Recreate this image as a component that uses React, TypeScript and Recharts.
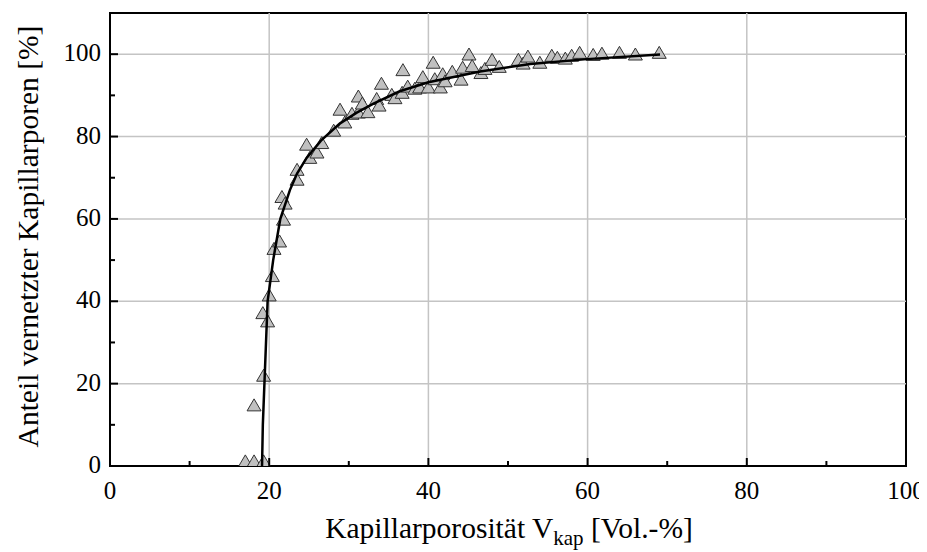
import React from 'react';
import { ScatterChart, Scatter, XAxis, YAxis, ReferenceLine, ReferenceArea, Label } from 'recharts';

const measX = [17.0, 18.1, 19.3, 18.1, 19.3, 19.2, 19.8, 20.0, 20.4, 20.6, 21.3, 21.8, 21.6, 22.0, 23.5, 23.5, 24.7, 25.1, 26.0, 26.6, 28.1, 28.9, 29.5, 30.4, 31.2, 31.2, 31.7, 32.4, 33.5, 33.8, 34.1, 35.4, 35.8, 36.7, 36.8, 37.4, 38.3, 38.9, 39.3, 40.0, 40.6, 40.8, 41.5, 41.8, 42.1, 43.0, 44.1, 44.3, 45.1, 45.5, 46.6, 47.1, 48.0, 48.9, 51.3, 51.9, 52.5, 54.0, 55.5, 56.2, 57.2, 58.0, 59.0, 60.7, 61.8, 64.0, 66.0, 69.0];
const measY = [1, 1, 1, 14.6, 21.8, 37, 35, 41.3, 46, 52.6, 54.4, 59.7, 65.2, 63.6, 71.8, 69.4, 77.9, 74.7, 76, 78.3, 81.3, 86.4, 83.3, 85.4, 89.6, 85.7, 87.9, 85.8, 89, 87.4, 92.7, 90, 89.2, 90.5, 96, 92, 91.5, 91.8, 94.3, 91.8, 97.8, 93.8, 91.8, 95, 93.3, 95.6, 93.7, 96.6, 99.8, 97, 95.3, 96.3, 98.5, 96.8, 98.5, 97.6, 99.3, 97.8, 99.5, 99, 98.8, 99.5, 100.2, 99.7, 100, 100.2, 99.8, 100.2];

const fitX = [19.1, 19.2, 19.4, 19.8, 20.5, 21.4, 22.6, 23.5, 24.7, 26.5, 28.9, 31.0, 33.1, 36.4, 40.0, 46.5, 52.8, 59.9, 69.1];
const fitY = [0, 10, 20, 40, 50, 60, 67, 71, 74.8, 79, 83.2, 85.8, 88, 91, 93.2, 95.8, 97.6, 98.8, 99.9];

const xTicks = [0, 10, 20, 30, 40, 50, 60, 70, 80, 90, 100];
const yTicks = [0, 10, 20, 30, 40, 50, 60, 70, 80, 90, 100];
const majorX = [20, 40, 60, 80];
const majorY = [20, 40, 60, 80, 100];

const measured = measX.map((x, i) => ({ x, y: measY[i] }));
const fit = fitX.map((x, i) => ({ x, y: fitY[i] }));

const FONT = '"Liberation Serif", "Times New Roman", serif';

const Triangle = (props: any) => {
  const { cx, cy } = props;
  if (cx == null || cy == null) return <g />;
  const pts = `${cx},${cy - 7} ${cx - 7},${cy + 5} ${cx + 7},${cy + 5}`;
  return <polygon points={pts} fill="#c0c0c0" stroke="#333" strokeWidth={1} />;
};

const XTick = (props: any) => {
  const { x, y, payload } = props;
  const v = payload.value;
  const major = v % 20 === 0;
  return (
    <g>
      <line x1={x} x2={x} y1={y} y2={y - (major ? 8 : 5)} stroke="#000" strokeWidth={2} />
      {major && (
        <text x={x} y={y + 33} textAnchor="middle" fontFamily={FONT} fontSize={25} fill="#000">{v}</text>
      )}
    </g>
  );
};

const YTick = (props: any) => {
  const { x, y, payload } = props;
  const v = payload.value;
  const major = v % 20 === 0;
  return (
    <g>
      <line x1={x} x2={x + (major ? 8 : 5)} y1={y} y2={y} stroke="#000" strokeWidth={2} />
      {major && (
        <text x={x - 9} y={y + 7} textAnchor="end" fontFamily={FONT} fontSize={25} fill="#000">{v}</text>
      )}
    </g>
  );
};

const XTitle = (props: any) => {
  const vb = props.viewBox || {};
  const cx = vb.x + vb.width / 2 + 1;
  return (
    <text x={cx} y={vb.y + 72} textAnchor="middle" fontFamily={FONT} fontSize={29.5} fill="#000">
      Kapillarporosität V<tspan fontSize={21} dy={7}>kap</tspan><tspan dy={-7}> [Vol.-%]</tspan>
    </text>
  );
};

const YTitle = (props: any) => {
  const vb = props.viewBox || {};
  const cx = 20;
  const cy = vb.y + vb.height / 2 - 3;
  return (
    <text x={cx} y={cy} textAnchor="middle" dominantBaseline="central" transform={`rotate(-90 ${cx} ${cy})`} fontFamily={FONT} fontSize={29.5} fill="#000">
      Anteil vernetzter Kapillarporen [%]
    </text>
  );
};

export default function App() {
  return (
    <ScatterChart width={919} height={544} margin={{ top: 5, right: 21, left: 0, bottom: 0 }}>
      <XAxis
        type="number"
        dataKey="x"
        domain={[0, 100]}
        ticks={xTicks}
        interval={0}
        height={86}
        tickSize={0}
        tickMargin={0}
        tickLine={false}
        axisLine={{ stroke: '#000', strokeWidth: 2 }}
        tick={<XTick />}
        allowDataOverflow
      >
        <Label content={<XTitle />} />
      </XAxis>
      <YAxis
        type="number"
        dataKey="y"
        domain={[0, 110]}
        ticks={yTicks}
        interval={0}
        width={102}
        tickSize={0}
        tickMargin={0}
        tickLine={false}
        axisLine={{ stroke: '#000', strokeWidth: 2 }}
        tick={<YTick />}
        allowDataOverflow
      >
        <Label content={<YTitle />} />
      </YAxis>
      {majorX.map((v) => (
        <ReferenceLine key={'vx' + v} x={v} stroke="#c4c4c4" strokeWidth={1.5} />
      ))}
      {majorY.map((v) => (
        <ReferenceLine key={'hy' + v} y={v} stroke="#c4c4c4" strokeWidth={1.5} />
      ))}
      <ReferenceArea x1={0} x2={100} y1={0} y2={110} fill="none" stroke="#000" strokeWidth={2} />
      <Scatter data={measured} shape={<Triangle />} isAnimationActive={false} />
      <Scatter data={fit} line={{ stroke: '#000', strokeWidth: 2.5 }} lineType="joint" shape={() => <g />} isAnimationActive={false} />
    </ScatterChart>
  );
}
